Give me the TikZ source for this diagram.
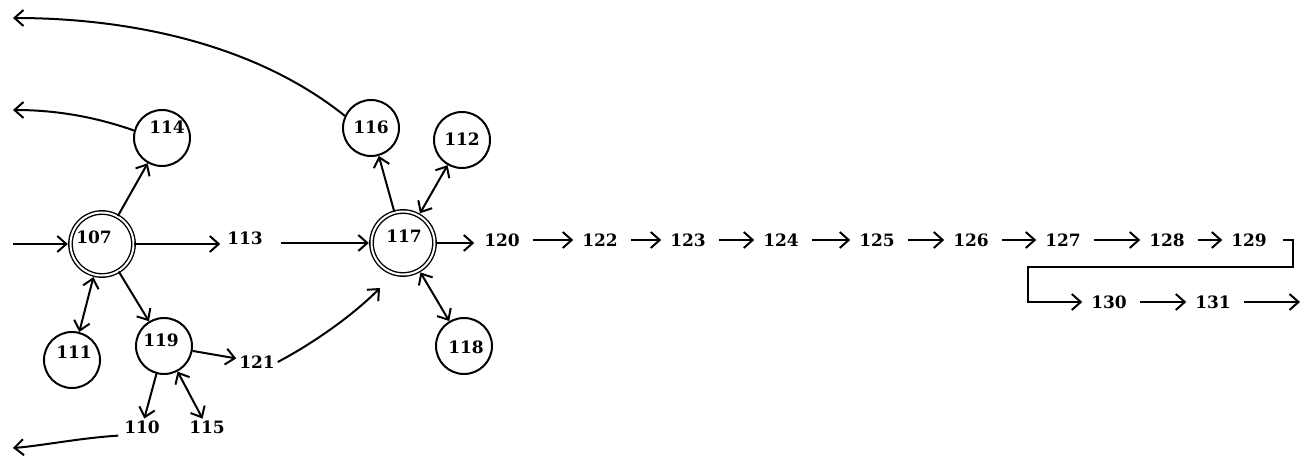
\documentclass[tikz,border=0pt]{standalone}
\usepackage{fontspec}
\setmainfont{DejaVu Serif}
\usetikzlibrary{arrows.meta}
\begin{document}
\begin{tikzpicture}[x=1pt,y=-1pt,line width=2pt,
  tip/.tip={Straight Barb[length=9pt,width=16pt]},
  arr/.style={-tip},
  dbl/.style={tip-tip},
  chainarr/.style={arr,shorten <=10pt,shorten >=6pt},
  state/.style={circle,draw,minimum size=56pt,inner sep=0pt},
  dstate/.style={circle,draw,double,double distance=2pt,line width=1.4pt,minimum size=63pt,inner sep=0pt},
  lbl/.style={inner xsep=2pt,inner ysep=1pt,font=\fontsize{17}{17}\selectfont\bfseries}]
\useasboundingbox (0,0) rectangle (1303,462);
% circles
\node[dstate] (n107) at (102,244) {};
\node[lbl] (t107) at (94,237) {107};
\node[dstate] (n117) at (403,243) {};
\node[lbl] (t117) at (404,236) {117};
\node[state] (n114) at (162,138) {};
\node[lbl] (t114) at (167,127) {114};
\node[state] (n116) at (371,128) {};
\node[lbl] (t116) at (371,127) {116};
\node[state] (n112) at (462,140) {};
\node[lbl] (t112) at (462,139) {112};
\node[state] (n118) at (464,346) {};
\node[lbl] (t118) at (466,347) {118};
\node[state] (n111) at (72,360) {};
\node[lbl] (t111) at (74,352) {111};
\node[state] (n119) at (164,346) {};
\node[lbl] (t119) at (161,340) {119};
% plain labels
\node[lbl] (t113) at (245,238) {113};
\node[lbl] (t121) at (257,362) {121};
\node[lbl] (t110) at (142,427) {110};
\node[lbl] (t115) at (207,427) {115};
\node[lbl] (t120) at (502,240) {120};
\node[lbl] (t122) at (600,240) {122};
\node[lbl] (t123) at (688,240) {123};
\node[lbl] (t124) at (781,240) {124};
\node[lbl] (t125) at (877,240) {125};
\node[lbl] (t126) at (971,240) {126};
\node[lbl] (t127) at (1063,240) {127};
\node[lbl] (t128) at (1167,240) {128};
\node[lbl] (t129) at (1249,240) {129};
\node[lbl] (t130) at (1109,302) {130};
\node[lbl] (t131) at (1213,302) {131};
% free ends
\coordinate (in107) at (13,244);
\coordinate (e114) at (13,110);
\coordinate (e116) at (13,18);
\coordinate (e110) at (13,448);
\coordinate (c117) at (380,288);
\coordinate (b1) at (1293,267);
\coordinate (b2) at (1028,267);
\coordinate (e131) at (1300,302);
% connectors
\draw[arr,shorten >=2pt] (in107) -- (n107.west);
\draw[arr,shorten >=4pt] (n107.east) -- (n107.east -| t113.west);
\draw[arr,shorten <=15pt,shorten >=2pt] (t113.east |- n117.west) -- (n117.west);
\draw[arr] (n107) -- (n114);
\draw[arr] (n114.165) .. controls (90,115) and (50,110) .. (e114);
\draw[arr] (n116.155) .. controls (250,40) and (120,18) .. (e116);
\draw[dbl,shorten <=2pt] (n107) -- (n111);
\draw[arr] (n107) -- (n119);
\draw[arr] (n119) -- (t121);
\draw[arr] (t121.east) .. controls (310,345) and (350,318) .. (c117);
\draw[arr] (n119) -- (t110);
\draw[dbl] (n119) -- (t115);
\draw[arr,shorten <=3pt] (t110.south west) .. controls (80,438) and (40,446) .. (e110);
\draw[arr] (n117) -- (n116);
\draw[dbl,shorten >=2pt] (n112) -- (n117);
\draw[dbl,shorten <=2pt] (n117) -- (n118);
\draw[arr,shorten <=2pt,shorten >=7pt] (n117.east) -- (n117.east -| t120.west);
\draw[chainarr] (t120) -- (t122);
\draw[chainarr] (t122) -- (t123);
\draw[chainarr] (t123) -- (t124);
\draw[chainarr] (t124) -- (t125);
\draw[chainarr] (t125) -- (t126);
\draw[chainarr] (t126) -- (t127);
\draw[chainarr] (t127) -- (t128);
\draw[chainarr] (t128) -- (t129);
\draw[arr,shorten >=6pt] ([xshift=13pt]t129.east) -| (b1) -- (b2) |- (t130.west);
\draw[chainarr] (t130) -- (t131);
\draw[arr,shorten <=10pt] (t131.east) -- (e131);
\end{tikzpicture}
\end{document}
